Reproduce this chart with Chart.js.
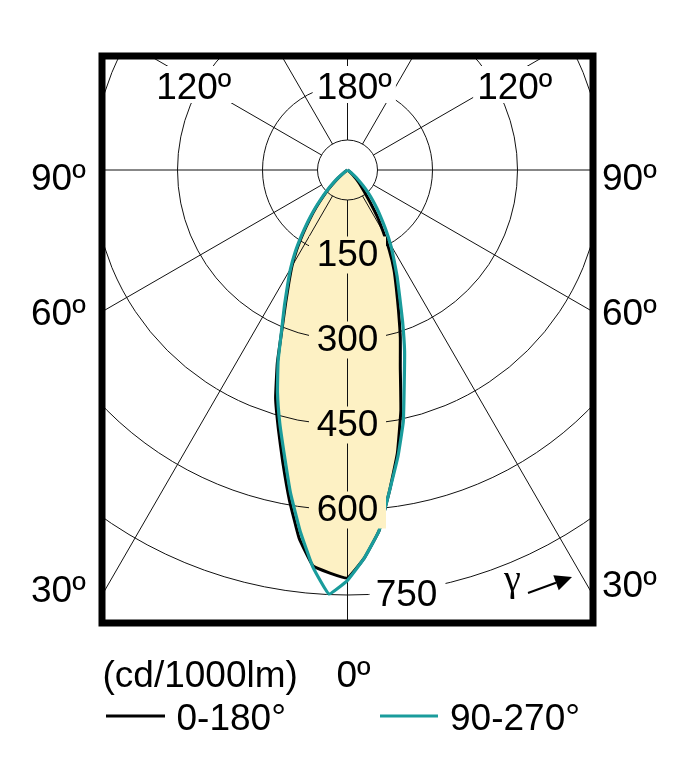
<!DOCTYPE html>
<html>
<head>
    <title>Polar intensity diagram</title>
    <meta charset="UTF-8">
    <script src="https://cdn.jsdelivr.net/npm/chart.js@4.4.0/dist/chart.umd.min.js"></script>
    <style>
        body { margin: 0; background: #fff; }
        canvas { display: block; }
    </style>
</head>
<body>
    <canvas id="myChart" width="699" height="773"></canvas>

    <script>
        // gamma = angle from nadir (deg), intensities in cd/1000lm
        var gammas = [0, 2.5, 5, 7.5, 10, 12.5, 15, 17.5, 20, 22.5, 25, 27.5, 30, 32.5, 35, 37.5, 40, 42.5, 45, 47.5, 50, 55, 60, 90];
        var c0   = [720, 685, 639, 570, 507, 435, 360, 310, 263, 225, 194, 160, 126, 99, 70, 50, 37, 28, 20, 13, 8, 2, 0, 0];
        var c180 = [720, 712, 701, 655, 591, 528, 472, 422, 362, 301, 258, 224, 196, 167, 137, 110, 86, 64, 46, 30, 17, 5, 0, 0];
        var c90  = [724, 685, 639, 570, 513, 455, 387, 335, 284, 240, 207, 177, 152, 127, 104, 85, 68, 53, 38, 26, 15, 4, 0, 0];
        var c270 = [724, 749, 703, 642, 579, 515, 462, 411, 358, 303, 263, 229, 201, 172, 142, 115, 91, 69, 51, 35, 22, 6, 0, 0];

        var rings = [150, 300, 450, 600, 750];
        var spokes = [0, 30, 60, 90, 120, 150, 180, 210, 240, 270, 300, 330];
        var seriesLabels = ['0-180°', '90-270°'];
        var unitLabel = '(cd/1000lm)';

        var FONT = '37px "Liberation Sans", Arial, sans-serif';
        var FILL = '#fdf1c4';
        var TEAL = '#1a9c9c';

        // frame of the plot (pixels) and centre of the diagram
        var box = { left: 102, top: 56, right: 593, bottom: 623 };
        var centreY = 170;
        var pxPerCd = 425 / 750;

        // left half (negative x) from 90 down to 0, then right half 0..90
        function polar(left, right) {
            var pts = [];
            for (var i = gammas.length - 1; i >= 1; i--) {
                var g = gammas[i] * Math.PI / 180;
                pts.push({ x: -left[i] * Math.sin(g), y: -left[i] * Math.cos(g) });
            }
            for (var j = 0; j < gammas.length; j++) {
                var h = gammas[j] * Math.PI / 180;
                pts.push({ x: right[j] * Math.sin(h), y: -right[j] * Math.cos(h) });
            }
            return pts;
        }

        var halfW = (box.right - box.left) / 2 / pxPerCd;

        var polarGrid = {
            id: 'polarGrid',
            beforeDatasetsDraw: function (chart) {
                var ctx = chart.ctx, a = chart.chartArea;
                var cx = chart.scales.x.getPixelForValue(0);
                var cy = chart.scales.y.getPixelForValue(0);
                var k = chart.scales.x.getPixelForValue(1) - cx;
                ctx.save();
                ctx.beginPath();
                ctx.rect(a.left, a.top, a.right - a.left, a.bottom - a.top);
                ctx.clip();
                ctx.strokeStyle = '#111';
                ctx.lineWidth = 1;
                rings.forEach(function (r) {
                    ctx.beginPath();
                    ctx.arc(cx, cy, r * k, 0, Math.PI * 2);
                    ctx.stroke();
                });
                ctx.beginPath();
                ctx.arc(cx, cy, 30, 0, Math.PI * 2);
                ctx.stroke();
                spokes.forEach(function (s) {
                    var t = s * Math.PI / 180;
                    ctx.beginPath();
                    ctx.moveTo(cx + 30 * Math.sin(t), cy + 30 * Math.cos(t));
                    ctx.lineTo(cx + 1000 * Math.sin(t), cy + 1000 * Math.cos(t));
                    ctx.stroke();
                });
                ctx.restore();
            },
            afterDatasetsDraw: function (chart) {
                var ctx = chart.ctx;
                var cx = chart.scales.x.getPixelForValue(0);
                var cy = chart.scales.y.getPixelForValue(0);
                var k = chart.scales.x.getPixelForValue(1) - cx;
                ctx.save();
                ctx.font = FONT;
                ctx.textBaseline = 'alphabetic';
                ctx.textAlign = 'center';
                rings.forEach(function (r, i) {
                    var y = cy + r * k;
                    var txt = String(r);
                    if (i < rings.length - 1) {
                        ctx.fillStyle = FILL;
                        ctx.fillRect(cx - 38.5, y - 18.5, 77, 37);
                        ctx.fillStyle = '#000';
                        ctx.fillText(txt, cx, y + 10.5);
                    } else {
                        ctx.fillStyle = '#fff';
                        ctx.fillRect(cx + 22, y - 18, 76, 36);
                        ctx.fillStyle = '#000';
                        ctx.fillText(txt, cx + 59, y + 10.5);
                    }
                });
                // angle labels along the top
                var tops = [['120\u00ba', -160.5], ['180\u00ba', 0], ['120\u00ba', 160.5]];
                ctx.textAlign = 'left';
                tops.forEach(function (t) {
                    var dw = ctx.measureText(t[0].slice(0, 3)).width;
                    var w = ctx.measureText(t[0]).width;
                    var x0 = cx + t[1] - dw / 2;
                    ctx.fillStyle = '#fff';
                    ctx.fillRect(x0 - 4, 66, w + 8, 37);
                    ctx.fillStyle = '#000';
                    ctx.fillText(t[0], x0, 98.5);
                });
                // gamma arrow
                ctx.font = '38px "Liberation Serif", serif';
                ctx.fillText('\u03b3', 504, 591);
                var x1 = 528, y1 = 593, x2 = 572, y2 = 577;
                var ang = Math.atan2(y2 - y1, x2 - x1);
                var bx = x2 - 17 * Math.cos(ang), by = y2 - 17 * Math.sin(ang);
                ctx.strokeStyle = '#000';
                ctx.lineWidth = 2;
                ctx.beginPath();
                ctx.moveTo(x1, y1);
                ctx.lineTo(bx, by);
                ctx.stroke();
                ctx.beginPath();
                ctx.moveTo(x2, y2);
                ctx.lineTo(bx + 8 * Math.sin(ang), by - 8 * Math.cos(ang));
                ctx.lineTo(bx - 8 * Math.sin(ang), by + 8 * Math.cos(ang));
                ctx.closePath();
                ctx.fill();
                ctx.restore();
            },
            afterDraw: function (chart) {
                var ctx = chart.ctx;
                ctx.save();
                ctx.strokeStyle = '#000';
                ctx.lineWidth = 7;
                ctx.strokeRect(box.left, box.top, box.right - box.left, box.bottom - box.top);
                ctx.font = FONT;
                ctx.fillStyle = '#000';
                ctx.textAlign = 'left';
                ctx.textBaseline = 'alphabetic';
                var sides = [['90\u00ba', 190], ['60\u00ba', 325]];
                sides.forEach(function (s) {
                    ctx.fillText(s[0], 31, s[1]);
                    ctx.fillText(s[0], 602, s[1]);
                });
                ctx.fillText('30\u00ba', 31, 601.5);
                ctx.fillText('30\u00ba', 602, 597);
                ctx.fillText(unitLabel, 102.5, 686.5);
                ctx.fillText('0\u00ba', 336.5, 686.5);
                // legend
                var ds = chart.data.datasets;
                var legend = [[ds[1], 106, 165, 176.5], [ds[0], 380, 438, 450]];
                legend.forEach(function (l) {
                    ctx.strokeStyle = l[0].borderColor;
                    ctx.lineWidth = 3;
                    ctx.beginPath();
                    ctx.moveTo(l[1], 716);
                    ctx.lineTo(l[2], 716);
                    ctx.stroke();
                    ctx.fillText(l[0].label, l[3], 730);
                });
                ctx.restore();
            }
        };

        var ctx = document.getElementById('myChart');
        var myChart = new Chart(ctx, {
            type: 'scatter',
            data: {
                datasets: [{
                    label: seriesLabels[1],
                    data: polar(c270, c90),
                    showLine: true,
                    borderColor: TEAL,
                    borderWidth: 3.2,
                    pointRadius: 0,
                    tension: 0.1,
                    fill: false,
                    order: 0
                }, {
                    label: seriesLabels[0],
                    data: polar(c180, c0),
                    showLine: true,
                    borderColor: '#000',
                    backgroundColor: FILL,
                    borderWidth: 3,
                    pointRadius: 0,
                    tension: 0.1,
                    fill: 'shape',
                    order: 1
                }]
            },
            options: {
                responsive: false,
                animation: false,
                devicePixelRatio: 1,
                layout: {
                    padding: { left: box.left, top: box.top, right: 699 - box.right, bottom: 773 - box.bottom }
                },
                scales: {
                    x: { type: 'linear', display: false, min: -halfW, max: halfW },
                    y: { type: 'linear', display: false, min: -(box.bottom - centreY) / pxPerCd, max: (centreY - box.top) / pxPerCd }
                },
                plugins: {
                    legend: { display: false },
                    tooltip: { enabled: false },
                    filler: { drawTime: 'beforeDraw' }
                }
            },
            plugins: [polarGrid]
        });
    </script>
</body>
</html>
